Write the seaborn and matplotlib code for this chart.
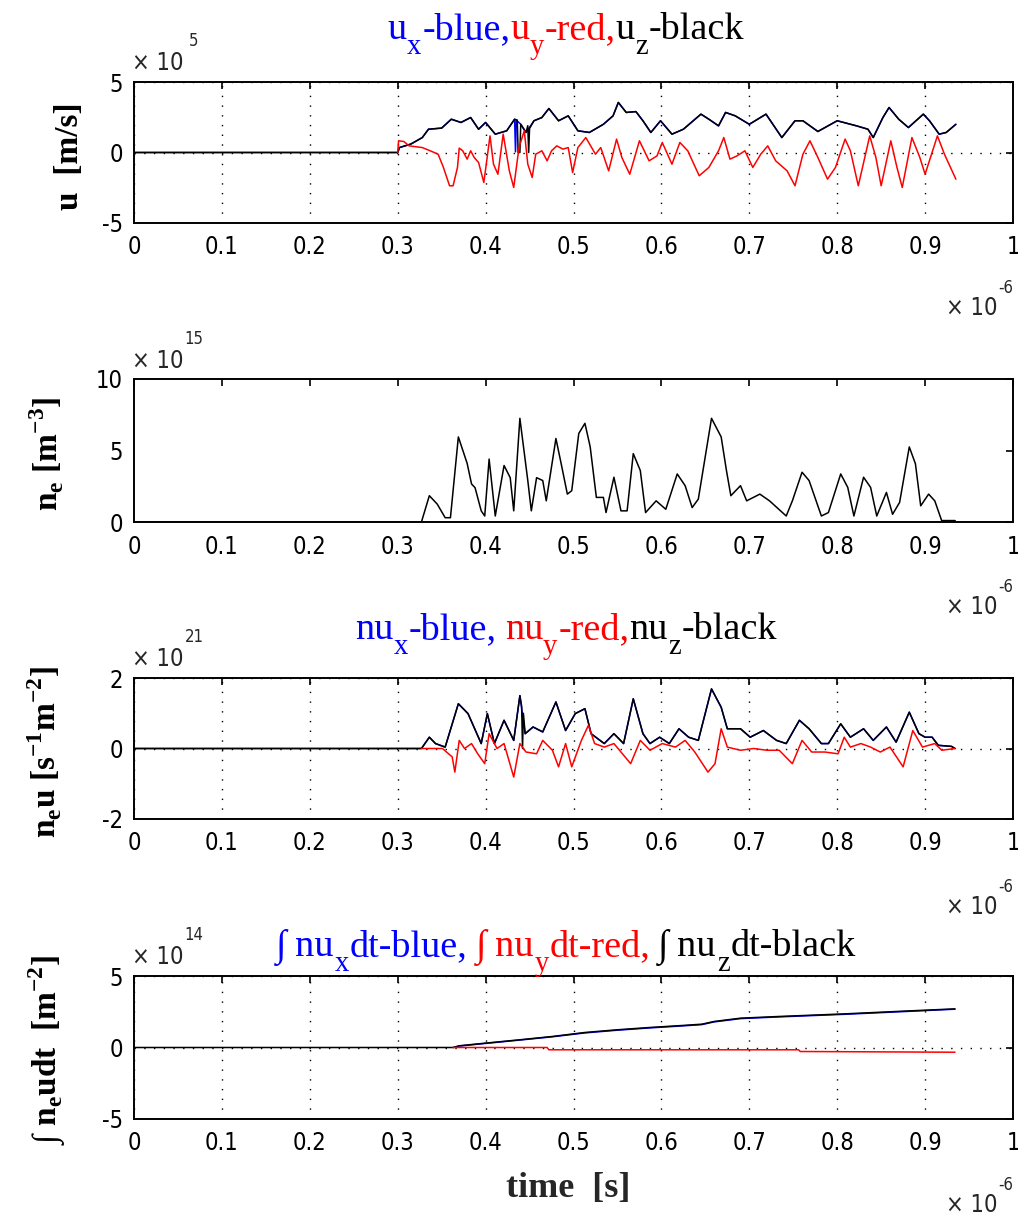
import matplotlib
matplotlib.use("Agg")
import matplotlib.pyplot as plt
import pandas as pd
import seaborn as sns

# ---------------- data (time in 1e-6 s) ----------------
# panel 1: velocity components, values in 1e5 m/s
ux_pts = [(0.0, 0), (0.300, 0), (0.302, 0.35), (0.315, 0.6), (0.328, 1.06), (0.335, 1.65), (0.350, 1.73),
          (0.361, 2.36), (0.372, 2.13), (0.383, 2.48), (0.392, 1.65), (0.400, 2.13), (0.411, 1.3), (0.424, 1.54),
          (0.433, 2.36), (0.434, 0.05), (0.435, 2.3), (0.440, 2.0), (0.446, 1.42), (0.455, 2.25), (0.464, 2.48),
          (0.472, 3.12), (0.483, 2.25), (0.494, 2.6), (0.505, 1.54), (0.518, 1.42), (0.534, 2.0), (0.545, 2.6),
          (0.551, 3.55), (0.560, 2.84), (0.571, 2.9), (0.579, 2.25), (0.588, 1.42), (0.599, 2.25), (0.612, 1.3),
          (0.625, 1.65), (0.645, 2.72), (0.654, 2.36), (0.665, 1.89), (0.673, 2.84), (0.684, 2.6), (0.700, 2.0),
          (0.719, 2.72), (0.737, 1.06), (0.752, 2.25), (0.761, 2.25), (0.778, 1.49), (0.800, 2.25), (0.822, 1.89),
          (0.835, 1.65), (0.841, 1.06), (0.852, 2.48), (0.859, 3.19), (0.870, 2.36), (0.881, 1.77), (0.898, 2.72),
          (0.905, 2.25), (0.916, 1.3), (0.924, 1.42), (0.935, 2.0)]
uz_pts = [(0.0, 0), (0.300, 0), (0.302, 0.35), (0.315, 0.6), (0.328, 1.06), (0.335, 1.65), (0.350, 1.73),
          (0.361, 2.36), (0.372, 2.13), (0.383, 2.48), (0.392, 1.65), (0.400, 2.13), (0.411, 1.3), (0.424, 1.54),
          (0.433, 2.36), (0.436, 2.3), (0.437, 0.0), (0.439, 0.0), (0.440, 2.0), (0.446, 1.42), (0.448, 1.9),
          (0.449, 0.0), (0.450, 1.7), (0.455, 2.25), (0.464, 2.48),
          (0.472, 3.12), (0.483, 2.25), (0.494, 2.6), (0.505, 1.54), (0.518, 1.42), (0.534, 2.0), (0.545, 2.6),
          (0.551, 3.55), (0.560, 2.84), (0.571, 2.9), (0.579, 2.25), (0.588, 1.42), (0.599, 2.25), (0.612, 1.3),
          (0.625, 1.65), (0.645, 2.72), (0.654, 2.36), (0.665, 1.89), (0.673, 2.84), (0.684, 2.6), (0.700, 2.0),
          (0.719, 2.72), (0.737, 1.06), (0.752, 2.25), (0.761, 2.25), (0.778, 1.49), (0.800, 2.25), (0.822, 1.89),
          (0.835, 1.65), (0.841, 1.06), (0.852, 2.48), (0.859, 3.19), (0.870, 2.36), (0.881, 1.77), (0.898, 2.72),
          (0.905, 2.25), (0.916, 1.3), (0.924, 1.42), (0.935, 2.0)]
uy_pts = [(0.300, 0), (0.301, 0.83), (0.307, 0.78), (0.313, 0.47), (0.328, 0.35), (0.337, 0.12), (0.346, -0.12),
          (0.352, -1.06), (0.359, -2.36), (0.363, -2.36), (0.368, -1.06), (0.370, 0.31), (0.374, 0.12),
          (0.379, -0.47), (0.383, 0.12), (0.387, -0.35), (0.392, -0.71), (0.398, -2.13), (0.405, 1.18),
          (0.409, -0.83), (0.414, -1.54), (0.420, 1.3), (0.427, -1.3), (0.432, -2.48), (0.438, 0.35),
          (0.444, 1.54), (0.448, -0.83), (0.453, -1.77), (0.457, -0.12), (0.464, 0.12), (0.470, -0.59),
          (0.475, 0.12), (0.481, 0.47), (0.488, 0.24), (0.494, 0.35), (0.499, -1.42), (0.505, 0.35),
          (0.514, 1.06), (0.525, -0.12), (0.531, 0.35), (0.540, -1.3), (0.549, 0.95), (0.555, -0.35),
          (0.564, -1.54), (0.575, 0.83), (0.586, -0.59), (0.595, -0.24), (0.601, 0.71), (0.612, -0.83),
          (0.621, 0.71), (0.630, 0.12), (0.643, -1.65), (0.654, -1.06), (0.665, 0.12), (0.671, 1.06),
          (0.678, -0.47), (0.686, -0.24), (0.695, 0.12), (0.704, -1.06), (0.713, -0.12), (0.721, 0.47),
          (0.730, -0.59), (0.743, -1.3), (0.752, -2.36), (0.761, -0.12), (0.769, 0.83), (0.778, -0.35),
          (0.789, -1.89), (0.798, -1.06), (0.809, 0.95), (0.815, 0.12), (0.824, -2.36), (0.837, 1.18),
          (0.844, -0.35), (0.850, -2.36), (0.861, 0.83), (0.868, -1.06), (0.874, -2.48), (0.885, 1.06),
          (0.894, -0.35), (0.900, -1.54), (0.914, 1.18), (0.922, -0.12), (0.935, -1.89)]

# panel 2: electron density, 1e15 m^-3
ne_pts = [(0.0, 0), (0.327, 0), (0.336, 1.84), (0.345, 1.25), (0.354, 0.3), (0.360, 0.3), (0.369, 5.95),
          (0.379, 4.1), (0.384, 2.66), (0.388, 2.4), (0.395, 0.78), (0.399, 0.42), (0.404, 4.4), (0.411, 0.42),
          (0.421, 3.95), (0.428, 3.1), (0.432, 0.78), (0.439, 7.25), (0.448, 2.9), (0.452, 0.78), (0.458, 3.1),
          (0.465, 2.9), (0.469, 1.48), (0.480, 5.84), (0.486, 4.07), (0.493, 1.95), (0.498, 2.19), (0.506, 6.19),
          (0.513, 6.9), (0.519, 5.25), (0.526, 1.72), (0.534, 1.72), (0.537, 0.66), (0.546, 3.13), (0.554, 0.78),
          (0.561, 0.78), (0.568, 4.78), (0.576, 3.6), (0.582, 0.66), (0.594, 1.48), (0.605, 0.89), (0.618, 3.36),
          (0.627, 2.54), (0.635, 1.01), (0.642, 1.6), (0.657, 7.25), (0.668, 5.95), (0.674, 3.6), (0.679, 1.84),
          (0.690, 2.54), (0.697, 1.48), (0.712, 1.95), (0.723, 1.48), (0.742, 0.42), (0.749, 1.48), (0.760, 3.48),
          (0.768, 2.9), (0.782, 0.42), (0.790, 0.66), (0.804, 3.36), (0.812, 2.42), (0.819, 0.42), (0.830, 3.13),
          (0.838, 2.42), (0.845, 0.42), (0.856, 2.07), (0.863, 0.54), (0.871, 1.37), (0.882, 5.25), (0.889, 4.07),
          (0.895, 1.13), (0.904, 1.95), (0.911, 1.48), (0.919, 0.07), (0.920, 0.1), (0.934, 0.1), (0.935, 0.0)]

# panel 3: flux n_e*u, 1e21 s^-1 m^-2
nuz_pts = [(0.0, 0), (0.327, 0), (0.336, 0.32), (0.343, 0.14), (0.354, 0.04), (0.369, 1.27), (0.380, 0.99),
           (0.395, 0.14), (0.402, 0.99), (0.410, 0.14), (0.421, 0.8), (0.432, 0.23), (0.439, 1.5), (0.441, 1.2),
           (0.442, 0.0), (0.443, 1.0), (0.445, 0.42), (0.454, 0.61), (0.465, 0.47), (0.480, 1.32), (0.491, 0.51),
           (0.502, 0.99), (0.513, 1.13), (0.520, 0.42), (0.535, 0.14), (0.546, 0.42), (0.557, 0.14), (0.568, 1.41),
           (0.579, 0.42), (0.587, 0.14), (0.598, 0.32), (0.609, 0.14), (0.620, 0.56), (0.631, 0.32), (0.642, 0.23),
           (0.657, 1.69), (0.668, 1.17), (0.675, 0.56), (0.690, 0.56), (0.701, 0.32), (0.716, 0.51), (0.731, 0.23),
           (0.742, 0.14), (0.757, 0.8), (0.768, 0.56), (0.782, 0.14), (0.790, 0.14), (0.804, 0.7), (0.815, 0.32),
           (0.830, 0.56), (0.841, 0.23), (0.856, 0.61), (0.867, 0.18), (0.882, 1.03), (0.893, 0.42), (0.900, 0.32),
           (0.908, 0.32), (0.915, 0.09), (0.930, 0.06), (0.934, 0.0)]
# the blue x-component lies under the black z-component in the picture
nux_pts = [(t, v) for t, v in nuz_pts if t not in (0.441, 0.442, 0.443)]
nuy_pts = [(0.327, 0), (0.351, 0), (0.362, -0.24), (0.365, -0.67), (0.370, 0.23), (0.376, 0), (0.384, 0.14),
           (0.391, -0.15), (0.399, -0.43), (0.404, 0.42), (0.413, 0), (0.421, 0.14), (0.432, -0.81), (0.439, 0.14),
           (0.446, -0.1), (0.458, -0.15), (0.465, 0.23), (0.476, -0.05), (0.483, -0.52), (0.491, 0.14),
           (0.498, -0.52), (0.509, 0.23), (0.517, 0.66), (0.524, 0.14), (0.535, 0.04), (0.546, 0.14),
           (0.554, -0.1), (0.565, -0.43), (0.576, 0.23), (0.587, -0.05), (0.601, 0.14), (0.616, 0.04),
           (0.627, 0.23), (0.638, -0.1), (0.653, -0.67), (0.661, -0.43), (0.668, 0.56), (0.675, 0.04),
           (0.690, -0.05), (0.705, 0), (0.720, -0.05), (0.734, -0.05), (0.749, -0.43), (0.760, 0.23),
           (0.771, -0.1), (0.786, -0.1), (0.801, -0.15), (0.808, 0.32), (0.815, 0.04), (0.827, 0.14),
           (0.838, 0.04), (0.849, -0.1), (0.860, 0.04), (0.875, -0.52), (0.886, 0.51), (0.897, 0.04),
           (0.911, 0.14), (0.919, -0.05), (0.934, 0)]

# panel 4: time-integrated flux, 1e14 m^-2
intz_pts = [(0.0, 0), (0.363, 0), (0.370, 0.12), (0.399, 0.3), (0.439, 0.54), (0.476, 0.77), (0.513, 1.05),
            (0.550, 1.24), (0.587, 1.4), (0.624, 1.54), (0.646, 1.63), (0.660, 1.82), (0.690, 2.05),
            (0.734, 2.17), (0.808, 2.35), (0.882, 2.56), (0.934, 2.7)]
intx_pts = [(0.363, 0), (0.370, 0.1), (0.399, 0.28), (0.439, 0.52), (0.476, 0.75), (0.513, 1.02),
            (0.550, 1.21), (0.587, 1.37), (0.624, 1.51), (0.646, 1.6), (0.660, 1.79), (0.690, 2.02),
            (0.734, 2.14), (0.808, 2.32), (0.882, 2.53), (0.934, 2.68)]
inty_pts = [(0.363, 0), (0.470, 0), (0.472, -0.16), (0.756, -0.16), (0.758, -0.28), (0.934, -0.33)]

x_ticks = [0, 0.1, 0.2, 0.3, 0.4, 0.5, 0.6, 0.7, 0.8, 0.9, 1]
x_ticklabels = ["0", "0.1", "0.2", "0.3", "0.4", "0.5", "0.6", "0.7", "0.8", "0.9", "1"]

# ---------------- style ----------------
sns.set_theme(style="white")
SANS = ["Liberation Sans Narrow", "DejaVu Sans"]
SERIF = ["Liberation Serif", "DejaVu Serif"]
plt.rcParams.update({
    "font.family": SANS,
    "font.stretch": "condensed",
    "mathtext.fontset": "custom",
    "mathtext.rm": "Liberation Serif",
    "mathtext.bf": "Liberation Serif:bold",
    "axes.edgecolor": "black",
    "axes.linewidth": 1.4,
    "xtick.color": "black",
    "ytick.color": "black",
})

W, H = 1018, 1215
fig = plt.figure(figsize=(W / 100, H / 100), dpi=100)

def px_axes(top, bottom, left=134, right=1013):
    return fig.add_axes([left / W, 1 - bottom / H, (right - left) / W, (bottom - top) / H])

BLUE, RED, BLACK = (0, 0, 1), (1, 0, 0), (0, 0, 0)
LW = 1.1
TICK_FS = 17

def draw(ax, pts, color):
    df = pd.DataFrame(pts, columns=["t", "v"])
    sns.lineplot(data=df, x="t", y="v", ax=ax, color=color, lw=LW, sort=False, estimator=None)

def style_axes(ax, ylim, yticks, grid=True):
    ax.set_xlim(0, 1)
    ax.set_ylim(*ylim)
    ax.set_xticks(x_ticks)
    ax.set_xticklabels(x_ticklabels)
    ax.set_yticks(yticks)
    ax.set_yticklabels([str(v) for v in yticks])
    ax.tick_params(direction="in", length=5, width=1.2, top=True, right=True, labelsize=TICK_FS,
                   labelcolor="black")
    ax.tick_params(axis="x", pad=9)
    ax.tick_params(axis="y", pad=8)
    for lab in ax.get_xticklabels() + ax.get_yticklabels():
        lab.set_family(SANS)
    ax.set_xlabel("")
    ax.set_ylabel("")
    if grid:
        ax.grid(True, color="black", linestyle=(0, (1, 6)), linewidth=1.0)
    else:
        ax.grid(False)
    for s in ax.spines.values():
        s.set_visible(True)
        s.set_color("black")
        s.set_linewidth(1.4)
    ax.set_facecolor("white")

def ftext(x, y, s, **kw):
    return fig.text(x / W, 1 - y / H, s, **kw)

TS = 27.5

def colored_row(pieces, xc, base):
    """pieces: (text, color, kind) with kind 'n' normal, 's' subscript, or ('gap', px)."""
    r = fig.canvas.get_renderer()
    objs, widths = [], []
    for p in pieces:
        if p[0] == "gap":
            objs.append(None)
            widths.append(p[1])
            continue
        s, c, kind = p
        if kind == "s":
            t = ftext(0, base + 15, s, color=c, va="baseline", ha="left", fontsize=TS * 0.75, family=SERIF)
        else:
            t = ftext(0, base, s, color=c, va="baseline", ha="left", fontsize=TS, family=SERIF)
        objs.append(t)
        widths.append(t.get_window_extent(renderer=r).width + (1 if kind == "s" else 0))
    x = xc - sum(widths) / 2
    for t, w in zip(objs, widths):
        if t is not None:
            t.set_x(x / W)
        x += w

def ylab(ax, s, xc, yc):
    ax.set_ylabel(s, fontsize=24, fontweight="bold", family=SERIF, color="black")
    lab = ax.yaxis.label
    lab.set_rotation_mode("default")
    lab.set_ha("center")
    lab.set_va("center")
    bb = ax.get_position()
    ax.yaxis.set_label_coords((xc / W - bb.x0) / bb.width, ((1 - yc / H) - bb.y0) / bb.height)

def multipliers(ytop, exp_top, ybot):
    ftext(158, ytop, "\u00d7 10", fontsize=TICK_FS, ha="center", va="center", family=SANS)
    ftext(194, ytop - 22, exp_top, fontsize=12, ha="center", va="center", family=SANS)
    ftext(972, ybot, "\u00d7 10", fontsize=TICK_FS, ha="center", va="center", family=SANS)
    ftext(1006, ybot - 20, "-6", fontsize=12, ha="center", va="center", family=SANS)

# ---------------- panel 1 ----------------
ax1 = px_axes(82, 223)
draw(ax1, ux_pts, BLUE)
draw(ax1, uz_pts, BLACK)
draw(ax1, uy_pts, RED)
style_axes(ax1, (-5, 5), [-5, 0, 5])
ylab(ax1, "u  [m/s]", 70, 156)
multipliers(63, "5", 308)
colored_row([("u", BLUE, "n"), ("x", BLUE, "s"), ("-blue,", BLUE, "n"),
             ("u", RED, "n"), ("y", RED, "s"), ("-red,", RED, "n"),
             ("u", BLACK, "n"), ("z", BLACK, "s"), ("-black", BLACK, "n")], 566, 39)

# ---------------- panel 2 ----------------
ax2 = px_axes(379, 522)
draw(ax2, ne_pts, BLACK)
style_axes(ax2, (0, 10), [0, 5, 10], grid=False)
ylab(ax2, "n$_\\mathregular{e}$ [m$^\\mathregular{-3}$]", 47, 454)
multipliers(361, "15", 607)

# ---------------- panel 3 ----------------
ax3 = px_axes(678, 819)
draw(ax3, nux_pts, BLUE)
draw(ax3, nuz_pts, BLACK)
draw(ax3, nuy_pts, RED)
style_axes(ax3, (-2, 2), [-2, 0, 2])
ylab(ax3, "n$_\\mathregular{e}$u [s$^\\mathregular{-1}$m$^\\mathregular{-2}$]", 45, 752)
multipliers(659, "21", 907)
colored_row([("nu", BLUE, "n"), ("x", BLUE, "s"), ("-blue,", BLUE, "n"), ("gap", 8),
             ("nu", RED, "n"), ("y", RED, "s"), ("-red,", RED, "n"),
             ("nu", BLACK, "n"), ("z", BLACK, "s"), ("-black", BLACK, "n")], 566, 639)

# ---------------- panel 4 ----------------
ax4 = px_axes(976, 1119)
draw(ax4, intx_pts, BLUE)
draw(ax4, intz_pts, BLACK)
draw(ax4, inty_pts, RED)
style_axes(ax4, (-5, 5), [-5, 0, 5])
ylab(ax4, "\u222b n$_\\mathregular{e}$udt  [m$^\\mathregular{-2}$]", 47, 1050)
multipliers(957, "14", 1205)
colored_row([("\u222b nu", BLUE, "n"), ("x", BLUE, "s"), ("dt-blue,", BLUE, "n"), ("gap", 8),
             ("\u222b nu", RED, "n"), ("y", RED, "s"), ("dt-red,", RED, "n"), ("gap", 8),
             ("\u222b nu", BLACK, "n"), ("z", BLACK, "s"), ("dt-black", BLACK, "n")], 566, 956)
ftext(568, 1189, "time  [s]", fontsize=26, fontweight="bold", family=SERIF, ha="center", va="center")

fig.savefig("out.png", dpi=100, facecolor="white")
